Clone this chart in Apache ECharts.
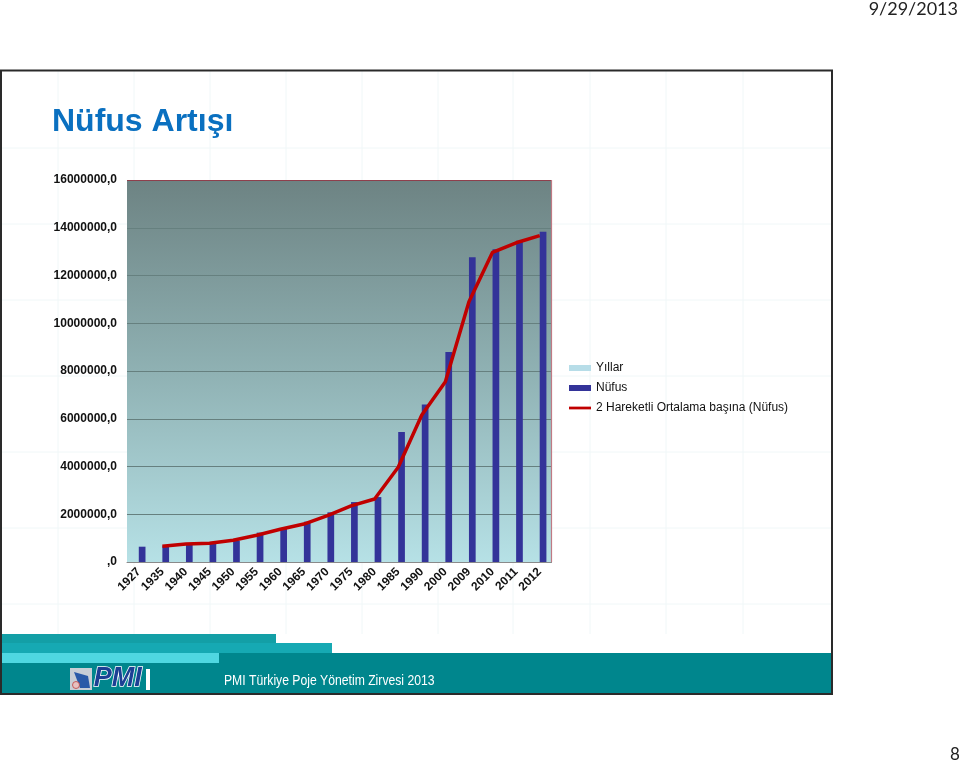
<!DOCTYPE html>
<html>
<head>
<meta charset="utf-8">
<script src="https://cdn.jsdelivr.net/npm/echarts@6/dist/echarts.min.js"></script>
<style>
html,body{margin:0;padding:0;background:#fff;}
#c{width:960px;height:766px;}
</style>
</head>
<body>
<div id="c"></div>
<script>
// ---- data ----
var years = ['1927','1935','1940','1945','1950','1955','1960','1965','1970','1975','1980','1985','1990','2000','2009','2010','2011','2012'];
var yillar = [1927,1935,1940,1945,1950,1955,1960,1965,1970,1975,1980,1985,1990,2000,2009,2010,2011,2012];
var nufus = [641000,683000,741000,808000,892000,1230000,1420000,1690000,2080000,2510000,2720000,5450000,6600000,8800000,12760000,13100000,13460000,13830000];
var hareketli = [null,662000,754000,790000,908000,1120000,1370000,1590000,1940000,2350000,2640000,3970000,6160000,7550000,10900000,12970000,13370000,13670000];
var yTicks = {min:0, max:16000000, interval:2000000};
var titleText = 'Nüfus Artışı';
var footerText = 'PMI Türkiye Poje Yönetim Zirvesi 2013';
var dateText = '9/29/2013';
var pageText = '8';

var chart = echarts.init(document.getElementById('c'), null, {renderer:'canvas'});

// faint background grid of the slide
var bg = [];
[58,134,210,286,362,438,513,590,666,743].forEach(function(x){
  bg.push({type:'line', z:-10, shape:{x1:x,y1:71,x2:x,y2:634}, style:{stroke:'#f0f7f8', lineWidth:1}});
});
[148,224,300,376,452,528,604].forEach(function(y){
  bg.push({type:'line', z:-10, shape:{x1:2,y1:y,x2:831,y2:y}, style:{stroke:'#f0f7f8', lineWidth:1}});
});

var font = '"Liberation Sans", Arial, sans-serif';

var graphics = bg.concat([
  // title
  {type:'text', left:52, top:106, z:10, style:{text:titleText, fill:'#0a70c0', font:'bold 32px ' + font}},
  // date
  {type:'text', right:2, top:0, z:10, style:{text:dateText, fill:'#222', font:'18px Lato, "Open Sans", sans-serif'}},
  // page number
  {type:'text', left:950, top:746, z:10, style:{text:pageText, fill:'#222', font:'17px Lato, "Open Sans", sans-serif'}},
  // banner
  {type:'rect', z:5, shape:{x:1, y:653, width:831, height:41}, style:{fill:'#00868d'}},
  {type:'rect', z:6, shape:{x:1, y:634, width:275, height:10}, style:{fill:'#139fa6'}},
  {type:'rect', z:6, shape:{x:1, y:643, width:331, height:10}, style:{fill:'#16a9b3'}},
  {type:'rect', z:6, shape:{x:1, y:653, width:218, height:10}, style:{fill:'#4fd7e1'}},
  // logo
  {type:'rect', z:7, shape:{x:70, y:668, width:22, height:22}, style:{fill:'#c8ced6'}},
  {type:'polygon', z:8, shape:{points:[[74,672],[88,676],[90,688],[80,688]]}, style:{fill:'#2a5aa8'}},
  {type:'circle', z:8, shape:{cx:76, cy:685, r:3.5}, style:{fill:'#e8c0c0', stroke:'#c04040', lineWidth:0.8}},
  {type:'text', left:93, top:664, z:8, style:{text:'PMI', fill:'#1c3f94', stroke:'#ffffff', lineWidth:1.5, font:'italic bold 27px ' + font}},
  {type:'rect', z:8, shape:{x:146, y:669, width:4, height:21}, style:{fill:'#ffffff'}},
  // footer text
  {type:'text', x:224, y:674, scaleX:0.87, z:8, style:{text:footerText, fill:'#ffffff', font:'14px ' + font}},
  // outer slide box
  {type:'rect', z:20, shape:{x:1, y:70.5, width:831, height:623.5}, style:{fill:'none', stroke:'#2a2a2a', lineWidth:2}},
  // plot top/right border
  {type:'line', z:4, shape:{x1:127, y1:180.5, x2:551.5, y2:180.5}, style:{stroke:'#8e3f4c', lineWidth:1.2}},
  {type:'line', z:4, shape:{x1:551.5, y1:180, x2:551.5, y2:562}, style:{stroke:'#c07a84', lineWidth:1.2}}
]);

var option = {
  animation:false,
  backgroundColor:'#ffffff',
  textStyle:{fontFamily:font},
  grid:{
    left:127, right:408.5, top:180, bottom:204,
    show:true, borderWidth:0,
    backgroundColor:new echarts.graphic.LinearGradient(0,0,0,1,[
      {offset:0, color:'#6d8383'},
      {offset:0.5, color:'#8fb1b3'},
      {offset:1, color:'#b6e1e6'}
    ])
  },
  legend:{
    orient:'vertical', left:569, top:362, padding:0,
    itemWidth:22, itemHeight:6, itemGap:8,
    textStyle:{fontSize:12, color:'#111', fontFamily:font},
    data:[
      {name:'Yıllar', icon:'rect'},
      {name:'Nüfus', icon:'rect'},
      {name:'2 Hareketli Ortalama başına (Nüfus)', icon:'path://M0,0h40v5h-40z'}
    ]
  },
  xAxis:{
    type:'category', data:years, boundaryGap:true,
    axisLine:{show:true, lineStyle:{color:'#8a8a8a', width:1}},
    axisTick:{show:false},
    axisLabel:{rotate:45, margin:8, fontSize:12, fontWeight:'bold', color:'#111', interval:0, fontFamily:font}
  },
  yAxis:{
    type:'value', min:yTicks.min, max:yTicks.max, interval:yTicks.interval,
    axisLine:{show:false}, axisTick:{show:false},
    splitLine:{show:true, lineStyle:{color:'#66807f', width:1}},
    axisLabel:{margin:10, fontSize:12, fontWeight:'bold', color:'#111', fontFamily:font,
      formatter:function(v){ return v === 0 ? ',0' : v + ',0'; }}
  },
  series:[
    {name:'Yıllar', type:'bar', data:yillar, barWidth:6.7, barGap:'0%', itemStyle:{color:'#b7dde8'}},
    {name:'Nüfus', type:'bar', data:nufus, barWidth:6.7, barGap:'0%', itemStyle:{color:'#333399'}},
    {name:'2 Hareketli Ortalama başına (Nüfus)', type:'line', data:hareketli, symbol:'none',
      connectNulls:false, lineStyle:{color:'#c00000', width:3.5}, itemStyle:{color:'#c00000'}, z:5}
  ],
  graphic:graphics
};
chart.setOption(option);
</script>
</body>
</html>
